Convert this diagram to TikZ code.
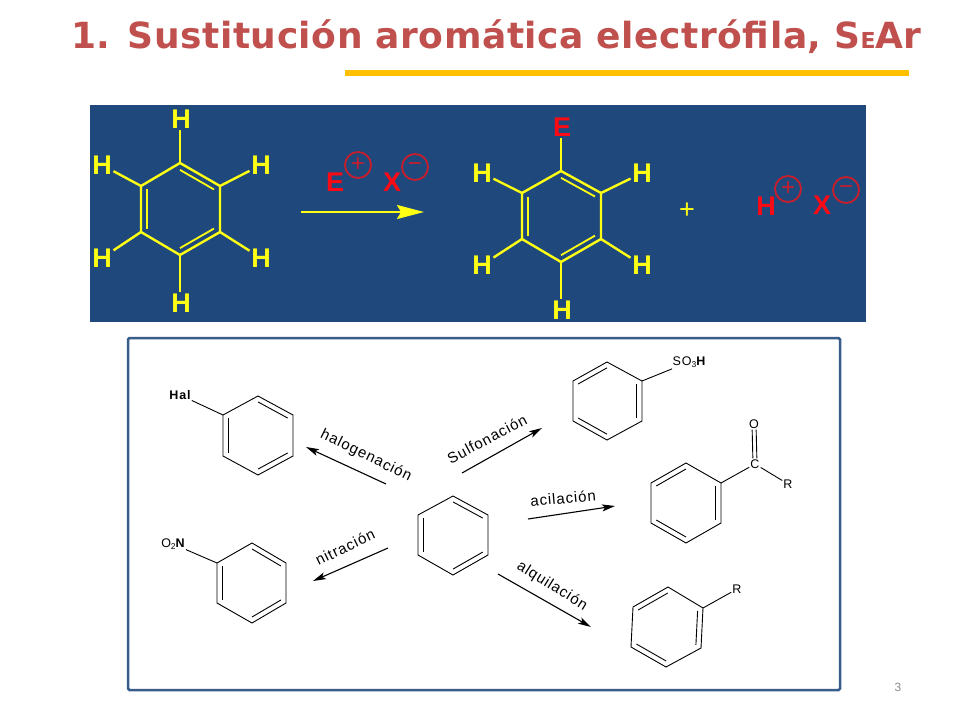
\documentclass[tikz,border=0pt]{standalone}
\usepackage{fontspec}
\usepackage{graphicx}
\setmainfont{Liberation Sans}
\newfontfamily\titlefont[LetterSpace=1.5]{DejaVu Sans Bold}
\newfontfamily\lblfont[LetterSpace=6]{Liberation Sans}
\newfontfamily\atomfont[LetterSpace=7]{Liberation Sans}
\usetikzlibrary{calc,arrows.meta}
\definecolor{slide}{HTML}{1F497D}
\definecolor{framec}{HTML}{385D8A}
\definecolor{titlec}{HTML}{C0504D}
\definecolor{goldc}{HTML}{FFC000}
\definecolor{atomred}{HTML}{FA0A14}
\definecolor{ringred}{HTML}{C81E2C}
\definecolor{yel}{HTML}{FFFF14}
\definecolor{numc}{HTML}{8C8C8C}
\newcommand{\benz}[9]{%
  \coordinate (#1a) at #2; \coordinate (#1b) at #3; \coordinate (#1c) at #4;
  \coordinate (#1d) at #5; \coordinate (#1e) at #6; \coordinate (#1f) at #7;
  \coordinate (#1o) at ($(#1a)!.5!(#1d)$);
  \draw[#8] (#1a) -- (#1b) -- (#1c) -- (#1d) -- (#1e) -- (#1f) -- cycle;
  \foreach \p/\q in {#9}{
    \draw[#8,inner bond] ($(#1\p)!.15!(#1o)$) -- ($(#1\q)!.15!(#1o)$);
  }%
}
\tikzset{
  ybond/.style={draw=yel,line width=2.4pt,line join=miter,inner bond/.style={line width=1.8pt}},
  kbond/.style={draw=black,line width=0.9pt,line join=miter,inner bond/.style={}},
  hatom/.style={inner sep=1.5pt,text=yel,font=\fontsize{27}{27}\selectfont\bfseries},
  ratom/.style={inner sep=1.5pt,text=atomred,font=\fontsize{27}{27}\selectfont\bfseries},
  charge/.style={circle,draw=ringred,line width=1.8pt,minimum size=26pt,inner sep=0pt,text=ringred,font=\fontsize{24}{24}\selectfont},
  katom/.style={inner sep=1pt,text=black,font=\fontsize{12.5}{12}\selectfont\atomfont},
  rlabel/.style={inner sep=0pt,text=black,font=\fontsize{15}{15}\selectfont\lblfont},
  rarrow/.style={draw=black,line width=1.1pt,-{Stealth[length=13pt,width=7pt,inset=3pt]}},
}
\begin{document}
\begin{tikzpicture}[x=1pt,y=-1pt]
\useasboundingbox (0,0) rectangle (960,720);
\fill[white] (0,0) rectangle (960,720);
% title
\node[inner sep=0pt,anchor=base west,text=titlec,font=\fontsize{36}{36}\selectfont\titlefont] (title) at (71,48)
  {1. Sustitución aromática electrófila, S{\fontsize{22}{22}\selectfont E}Ar};
\fill[goldc] (345,69.5) rectangle (909,76);
% blue panel
\fill[slide] (90,105) rectangle (866,322);
% left benzene
\benz{A}{(180,163)}{(220,186)}{(220,232)}{(180,255)}{(141,232)}{(141,186)}{ybond}{a/b,c/d,e/f}
\node[hatom] (A1) at (181,119) {H};
\node[hatom] (A2) at (261,165) {H};
\node[hatom] (A3) at (261,258) {H};
\node[hatom] (A4) at (181,303) {H};
\node[hatom] (A5) at (102,258) {H};
\node[hatom] (A6) at (102,165) {H};
\draw[ybond] (Aa) -- (Aa |- A1.south);
\draw[ybond] (Ab) -- (A2);
\draw[ybond] (Ac) -- (A3);
\draw[ybond] (Ad) -- (Ad |- A4.north);
\draw[ybond] (Ae) -- (A5);
\draw[ybond] (Af) -- (A6);
% reagents
\node[ratom] (e1) at (335,182) {E};
\node[charge] (c1) at (358,165) {+};
\node[ratom] (x1) at (392,182) {X};
\node[charge] (c2) at (415,167) {−};
\coordinate (ra) at (301,212);
\coordinate (rb) at (424,212);
\draw[draw=yel,fill=yel,line width=2.3pt,-{Stealth[length=27pt,width=14pt,inset=4pt]}] (ra) -- (rb);
% right benzene
\benz{B}{(561,171)}{(601,193)}{(601,239)}{(561,262)}{(522,239)}{(522,193)}{ybond}{a/b,c/d,e/f}
\node[ratom] (B1) at (562,127) {E};
\node[hatom] (B2) at (642,173) {H};
\node[hatom] (B3) at (642,265) {H};
\node[hatom] (B4) at (562,310) {H};
\node[hatom] (B5) at (482,265) {H};
\node[hatom] (B6) at (482,173) {H};
\draw[ybond] (Ba) -- (Ba |- B1.south);
\draw[ybond] (Bb) -- (B2);
\draw[ybond] (Bc) -- (B3);
\draw[ybond] (Bd) -- (Bd |- B4.north);
\draw[ybond] (Be) -- (B5);
\draw[ybond] (Bf) -- (B6);
\node[inner sep=0pt,text=yel,font=\fontsize{27}{27}\selectfont] (plus) at (687,211) {+};
\node[ratom] (h2) at (766,206) {H};
\node[charge] (c3) at (788,189) {+};
\node[ratom] (x2) at (822,205) {X};
\node[charge] (c4) at (846,190) {−};
% lower frame
\draw[framec,line width=2.5pt,fill=white,rounded corners=1.5pt] (128,338) rectangle (840,690);
% centre
\benz{C}{(453,496)}{(488,515)}{(488,555)}{(453,575)}{(418,555)}{(418,515)}{kbond}{a/b,c/d,e/f}
% halogen
\benz{D}{(258,396)}{(293,415)}{(293,456)}{(258,475)}{(223,456)}{(223,415)}{kbond}{a/b,c/d,e/f}
\node[katom] (hal) at (180,395) {\bfseries Hal};
\draw[kbond] (Df) -- (hal);
% nitro
\benz{E}{(252,543)}{(286,563)}{(286,603)}{(252,623)}{(217,603)}{(217,563)}{kbond}{a/b,c/d,e/f}
\node[katom] (no) at (173,544) {O{\fontsize{8.5}{8}\selectfont\raisebox{-2.5pt}{2}}{\bfseries N}};
\draw[kbond] (Ef) -- (no);
% sulfo
\benz{F}{(607,362)}{(642,381)}{(642,421)}{(607,440)}{(573,421)}{(573,381)}{kbond}{f/a,b/c,d/e}
\node[katom] (so) at (689,362) {SO{\fontsize{8.5}{8}\selectfont\raisebox{-2.5pt}{3}}{\bfseries H}};
\draw[kbond] (Fb) -- (so);
% acyl
\benz{G}{(686,463)}{(721,483)}{(721,523)}{(686,543)}{(651,523)}{(651,483)}{kbond}{f/a,b/c,d/e}
\node[katom] (cc) at (755,464) {C};
\node[katom] (oo) at (754,424) {O};
\node[katom] (rr) at (788,484) {R};
\draw[kbond] (Gb) -- (cc);
\draw[kbond] (cc) -- (rr);
\draw[kbond,transform canvas={xshift=-2pt}] (cc) -- (oo);
\draw[kbond,transform canvas={xshift=2pt}] (cc) -- (oo);
% alkyl
\benz{H}{(668,587)}{(703,608)}{(701,648)}{(666,667)}{(631,647)}{(633,607)}{kbond}{f/a,b/c,d/e}
\node[katom] (r2) at (737,589) {R};
\draw[kbond] (Hb) -- (r2);
% reaction arrows
\coordinate (a1s) at (386,484); \coordinate (a1e) at (306,447);
\coordinate (a2s) at (388,548); \coordinate (a2e) at (313,581);
\coordinate (a3s) at (462,473); \coordinate (a3e) at (542,428);
\coordinate (a4s) at (528,519); \coordinate (a4e) at (615,506);
\coordinate (a5s) at (498,574); \coordinate (a5e) at (591,627);
\draw[rarrow] (a1s) -- (a1e);
\draw[rarrow] (a2s) -- (a2e);
\draw[rarrow] (a3s) -- (a3e);
\draw[rarrow] (a4s) -- (a4e);
\draw[rarrow] (a5s) -- (a5e);
\node[rlabel,rotate=-26] (l1) at (366,456) {halogenación};
\node[rlabel,rotate=26] (l2) at (345,547) {nitración};
\node[rlabel,rotate=28] (l3) at (487,439) {Sulfonación};
\node[rlabel,rotate=5] (l4) at (563,498) {acilación};
\node[rlabel,rotate=-32] (l5) at (552,586) {alquilación};
\node[inner sep=0pt,text=numc,font=\fontsize{12}{12}\selectfont] (pg) at (898,687) {3};
\end{tikzpicture}
\end{document}
